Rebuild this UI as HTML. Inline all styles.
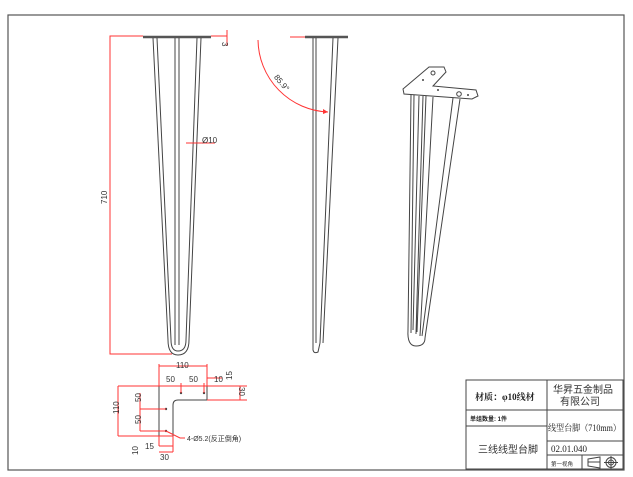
<!DOCTYPE html>
<html><head><meta charset="utf-8"><style>
html,body{margin:0;padding:0;background:#fff}
svg{display:block}
text{font-family:"Liberation Sans","Noto Sans CJK SC",sans-serif}
.s{fill:none;stroke:#444;stroke-width:1}
.r{fill:none;stroke:#f33;stroke-width:1}
.rt{fill:#333;font-size:8px}
</style></head><body>
<svg width="633" height="477" viewBox="0 0 633 477" xmlns="http://www.w3.org/2000/svg">
<rect x="8" y="15" width="616" height="455" fill="none" stroke="#555" stroke-width="1.2"/>

<!-- front view -->
<line x1="143" y1="37" x2="211" y2="37" stroke="#555" stroke-width="2.5"/>
<path class="s" d="M153,38 L168,340 M157,38 L171,340 M175,38 L175,345 M179,38 L179,345 M197,38 L186,340 M201,38 L189,340"/>
<path class="s" d="M168,340 Q168,355 178,355 Q189,355 189,340 M171,340 Q171,351 178,351 Q186,351 186,340"/>
<path class="r" d="M143,36 H110 V354 H172 M211,36 H227 M227,30 V46"/>
<text class="rt" x="222" y="48" transform="rotate(90 225 45)">3</text>
<text class="rt" x="96" y="199" transform="rotate(-90 104 196)">710</text>
<path class="r" d="M186,143 H215"/>
<text class="rt" x="202" y="143">Ø10</text>

<!-- side view -->
<line x1="305" y1="37" x2="348" y2="37" stroke="#555" stroke-width="2.5"/>
<path class="s" d="M313,38 L313,343 M316,38 L316,343 M333,38 L320,343 M338,38 L323,343"/>
<path class="s" d="M313,343 L313,350 Q314,354 318,352 L320,343"/>
<path class="r" d="M258,40 A73,73 0 0 0 328,112"/>
<path d="M328,112 l-5,-3 l0,5z" fill="#f33"/>
<text class="rt" x="270" y="85" transform="rotate(50 280 85)">85.9°</text>
<path class="r" d="M290,37 H305"/>

<!-- 3D view -->
<path class="s" d="M403,89 L429,67 L444,67 L446,72 L433,86 L476,90 L478,96 L472,99 L404,94 Z"/>
<circle cx="433" cy="73" r="2" class="s"/><circle cx="459" cy="94" r="2.3" class="s"/>
<circle cx="423" cy="80" r="1" fill="#444"/><circle cx="438" cy="90" r="1" fill="#444"/><circle cx="468" cy="95" r="1" fill="#444"/>
<path class="s" d="M411,95 L408,330 M414,95 L411,333 M419,96 L413,330 M423,96 L416,334 M426,96 L417,332 M433,97 L420,336 M453,98 L422,336 M460,99 L425,338"/>
<path class="s" d="M408,330 Q407,346 416,346 Q425,346 425,338"/>

<!-- bracket -->
<path class="s" d="M159,386 H207 V400 H178 Q173,400 173,405 V436 H159 Z" stroke-width="1.3"/>
<circle cx="181" cy="393" r="1.2" fill="#444"/><circle cx="204" cy="393" r="1.2" fill="#444"/>
<circle cx="166" cy="409" r="1.2" fill="#444"/><circle cx="166" cy="431" r="1.2" fill="#444"/>
<path class="r" d="M159,366 H207 M159,364 V386 M207,364 V386 M159,386 H247 M181,383 V393 M204,383 V393 M207,378 H222 M207,400 H247 M240,386 V400 M118,386 H159 M118,386 V436 M118,436 H173 M140,393 V431 M140,409 H166 M140,431 H166 M159,436 V446 M159,446 H173 M173,436 V452 M159,452 H173 M166,431 L180,438 H185"/>
<text class="rt" x="176" y="368">110</text>
<text class="rt" x="166" y="382">50</text>
<text class="rt" x="189" y="382">50</text>
<text class="rt" x="214" y="382">10</text>
<text class="rt" x="226" y="378" transform="rotate(-90 230 376)">15</text>
<text class="rt" x="237" y="397" transform="rotate(90 243 393)">30</text>
<text class="rt" x="112" y="413" transform="rotate(-90 116 410)">110</text>
<text class="rt" x="134" y="401" transform="rotate(-90 138 398)">50</text>
<text class="rt" x="134" y="423" transform="rotate(-90 138 420)">50</text>
<text class="rt" x="131" y="454" transform="rotate(-90 135 451)">10</text>
<text class="rt" x="145" y="449">15</text>
<text class="rt" x="160" y="460">30</text>
<text class="rt" x="187" y="441" style="font-size:7px">4-Ø5.2(反正倒角)</text>

<!-- title block -->
<g stroke="#444" stroke-width="1" fill="none">
<rect x="466" y="380" width="157" height="89"/>
<line x1="547" y1="380" x2="547" y2="469"/>
<line x1="466" y1="410" x2="623" y2="410"/>
<line x1="466" y1="426" x2="547" y2="426"/>
<line x1="547" y1="441" x2="623" y2="441"/>
<line x1="547" y1="455" x2="623" y2="455"/>
<line x1="582" y1="455" x2="582" y2="469"/>
</g>
<text x="475" y="400" font-size="9" fill="#222" font-weight="bold" style="font-family:'Liberation Serif','Noto Serif CJK SC',serif">材质：φ10线材</text>
<text x="553" y="393" font-size="10" fill="#333">华昇五金制品</text>
<text x="560" y="405" font-size="10" fill="#333">有限公司</text>
<text x="470" y="421" font-size="6" fill="#222" font-weight="bold">单组数量: 1件</text>
<text x="548" y="431" font-size="9" fill="#222" textLength="73" lengthAdjust="spacingAndGlyphs" style="font-family:'Liberation Serif','Noto Serif CJK SC',serif">线型台脚（710mm）</text>
<text x="478" y="453" font-size="10" fill="#333">三线线型台脚</text>
<text x="551" y="452" font-size="9" fill="#222" style="font-family:'Liberation Serif','Noto Serif CJK SC',serif">02.01.040</text>
<text x="551" y="466" font-size="5.5" fill="#333">第一视角</text>
<path class="s" d="M588,459 L600,457 V468 L588,466 Z M588,462 H600"/>
<circle cx="611" cy="462.5" r="5" class="s"/><circle cx="611" cy="462.5" r="2.5" class="s"/>
<path class="s" d="M604,462.5 H618 M611,456 V469"/>
</svg>
</body></html>
